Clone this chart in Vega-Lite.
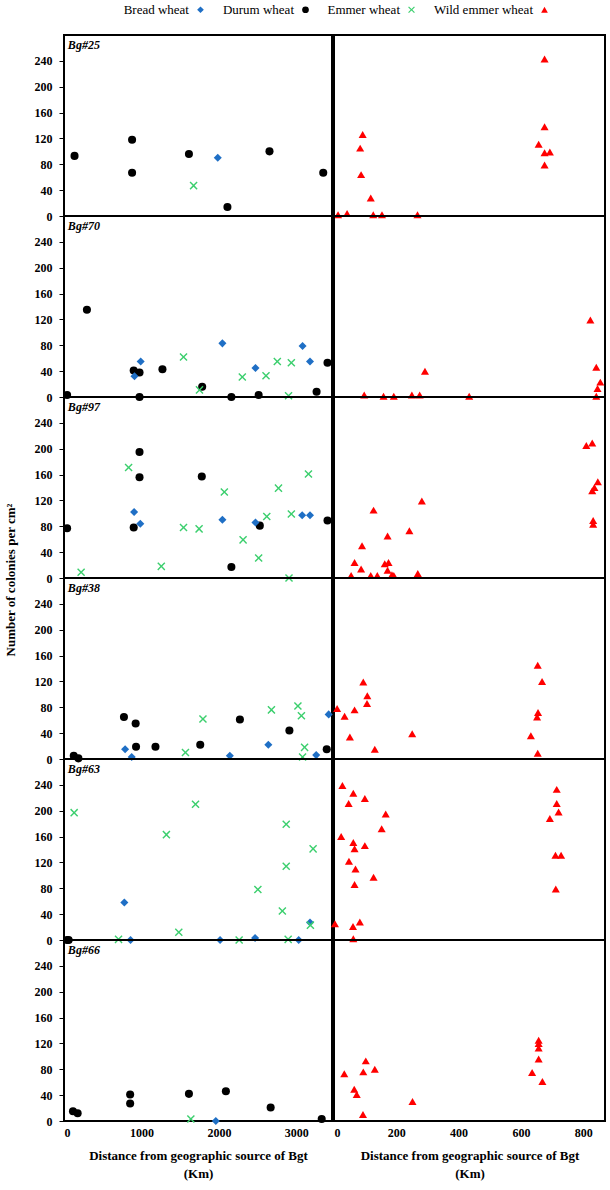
{
  "$schema": "https://vega.github.io/schema/vega-lite/v6.json",
  "padding": {"left": 4, "top": 3, "right": 4, "bottom": 2},
  "data": {
    "values": [
      {"strain": "Bg#25", "species": "Durum wheat", "km": 136, "colonies": 93},
      {"strain": "Bg#25", "species": "Durum wheat", "km": 879, "colonies": 118},
      {"strain": "Bg#25", "species": "Durum wheat", "km": 879, "colonies": 67},
      {"strain": "Bg#25", "species": "Durum wheat", "km": 1613, "colonies": 96},
      {"strain": "Bg#25", "species": "Durum wheat", "km": 2110, "colonies": 14},
      {"strain": "Bg#25", "species": "Durum wheat", "km": 2653, "colonies": 100},
      {"strain": "Bg#25", "species": "Durum wheat", "km": 3347, "colonies": 67},
      {"strain": "Bg#25", "species": "Bread wheat", "km": 1985, "colonies": 90},
      {"strain": "Bg#25", "species": "Emmer wheat", "km": 1673, "colonies": 47},
      {"strain": "Bg#25", "species": "Wild emmer wheat", "km": 13, "colonies": 2},
      {"strain": "Bg#25", "species": "Wild emmer wheat", "km": 42, "colonies": 4},
      {"strain": "Bg#25", "species": "Wild emmer wheat", "km": 92, "colonies": 126},
      {"strain": "Bg#25", "species": "Wild emmer wheat", "km": 84, "colonies": 105},
      {"strain": "Bg#25", "species": "Wild emmer wheat", "km": 87, "colonies": 64},
      {"strain": "Bg#25", "species": "Wild emmer wheat", "km": 118, "colonies": 28},
      {"strain": "Bg#25", "species": "Wild emmer wheat", "km": 126, "colonies": 2},
      {"strain": "Bg#25", "species": "Wild emmer wheat", "km": 154, "colonies": 2},
      {"strain": "Bg#25", "species": "Wild emmer wheat", "km": 268, "colonies": 2},
      {"strain": "Bg#25", "species": "Wild emmer wheat", "km": 676, "colonies": 243},
      {"strain": "Bg#25", "species": "Wild emmer wheat", "km": 676, "colonies": 138},
      {"strain": "Bg#25", "species": "Wild emmer wheat", "km": 657, "colonies": 111},
      {"strain": "Bg#25", "species": "Wild emmer wheat", "km": 676, "colonies": 98},
      {"strain": "Bg#25", "species": "Wild emmer wheat", "km": 693, "colonies": 99},
      {"strain": "Bg#25", "species": "Wild emmer wheat", "km": 676, "colonies": 79},

      {"strain": "Bg#70", "species": "Durum wheat", "km": 40, "colonies": 3},
      {"strain": "Bg#70", "species": "Durum wheat", "km": 296, "colonies": 135},
      {"strain": "Bg#70", "species": "Durum wheat", "km": 900, "colonies": 41},
      {"strain": "Bg#70", "species": "Durum wheat", "km": 975, "colonies": 38},
      {"strain": "Bg#70", "species": "Durum wheat", "km": 975, "colonies": 0},
      {"strain": "Bg#70", "species": "Durum wheat", "km": 1271, "colonies": 43},
      {"strain": "Bg#70", "species": "Durum wheat", "km": 1784, "colonies": 16},
      {"strain": "Bg#70", "species": "Durum wheat", "km": 2161, "colonies": 0},
      {"strain": "Bg#70", "species": "Durum wheat", "km": 2513, "colonies": 3},
      {"strain": "Bg#70", "species": "Durum wheat", "km": 3261, "colonies": 8},
      {"strain": "Bg#70", "species": "Durum wheat", "km": 3402, "colonies": 53},
      {"strain": "Bg#70", "species": "Bread wheat", "km": 910, "colonies": 32},
      {"strain": "Bg#70", "species": "Bread wheat", "km": 990, "colonies": 55},
      {"strain": "Bg#70", "species": "Bread wheat", "km": 2045, "colonies": 83},
      {"strain": "Bg#70", "species": "Bread wheat", "km": 2472, "colonies": 45},
      {"strain": "Bg#70", "species": "Bread wheat", "km": 3080, "colonies": 79},
      {"strain": "Bg#70", "species": "Bread wheat", "km": 3176, "colonies": 55},
      {"strain": "Bg#70", "species": "Emmer wheat", "km": 1543, "colonies": 62},
      {"strain": "Bg#70", "species": "Emmer wheat", "km": 1749, "colonies": 11},
      {"strain": "Bg#70", "species": "Emmer wheat", "km": 2302, "colonies": 31},
      {"strain": "Bg#70", "species": "Emmer wheat", "km": 2608, "colonies": 33},
      {"strain": "Bg#70", "species": "Emmer wheat", "km": 2754, "colonies": 55},
      {"strain": "Bg#70", "species": "Emmer wheat", "km": 2899, "colonies": 2},
      {"strain": "Bg#70", "species": "Emmer wheat", "km": 2935, "colonies": 53},
      {"strain": "Bg#70", "species": "Wild emmer wheat", "km": 97, "colonies": 3},
      {"strain": "Bg#70", "species": "Wild emmer wheat", "km": 159, "colonies": 1},
      {"strain": "Bg#70", "species": "Wild emmer wheat", "km": 192, "colonies": 1},
      {"strain": "Bg#70", "species": "Wild emmer wheat", "km": 250, "colonies": 3},
      {"strain": "Bg#70", "species": "Wild emmer wheat", "km": 275, "colonies": 3},
      {"strain": "Bg#70", "species": "Wild emmer wheat", "km": 292, "colonies": 40},
      {"strain": "Bg#70", "species": "Wild emmer wheat", "km": 434, "colonies": 1},
      {"strain": "Bg#70", "species": "Wild emmer wheat", "km": 823, "colonies": 119},
      {"strain": "Bg#70", "species": "Wild emmer wheat", "km": 842, "colonies": 46},
      {"strain": "Bg#70", "species": "Wild emmer wheat", "km": 855, "colonies": 23},
      {"strain": "Bg#70", "species": "Wild emmer wheat", "km": 846, "colonies": 13},
      {"strain": "Bg#70", "species": "Wild emmer wheat", "km": 842, "colonies": 1},

      {"strain": "Bg#97", "species": "Durum wheat", "km": 40, "colonies": 77},
      {"strain": "Bg#97", "species": "Durum wheat", "km": 900, "colonies": 78},
      {"strain": "Bg#97", "species": "Durum wheat", "km": 975, "colonies": 195},
      {"strain": "Bg#97", "species": "Durum wheat", "km": 975, "colonies": 156},
      {"strain": "Bg#97", "species": "Durum wheat", "km": 1779, "colonies": 157},
      {"strain": "Bg#97", "species": "Durum wheat", "km": 2161, "colonies": 17},
      {"strain": "Bg#97", "species": "Durum wheat", "km": 2528, "colonies": 81},
      {"strain": "Bg#97", "species": "Durum wheat", "km": 3402, "colonies": 89},
      {"strain": "Bg#97", "species": "Bread wheat", "km": 905, "colonies": 102},
      {"strain": "Bg#97", "species": "Bread wheat", "km": 985, "colonies": 84},
      {"strain": "Bg#97", "species": "Bread wheat", "km": 2045, "colonies": 90},
      {"strain": "Bg#97", "species": "Bread wheat", "km": 2472, "colonies": 86},
      {"strain": "Bg#97", "species": "Bread wheat", "km": 3075, "colonies": 97},
      {"strain": "Bg#97", "species": "Bread wheat", "km": 3176, "colonies": 97},
      {"strain": "Bg#97", "species": "Emmer wheat", "km": 221, "colonies": 9},
      {"strain": "Bg#97", "species": "Emmer wheat", "km": 834, "colonies": 171},
      {"strain": "Bg#97", "species": "Emmer wheat", "km": 1256, "colonies": 18},
      {"strain": "Bg#97", "species": "Emmer wheat", "km": 1543, "colonies": 78},
      {"strain": "Bg#97", "species": "Emmer wheat", "km": 1744, "colonies": 76},
      {"strain": "Bg#97", "species": "Emmer wheat", "km": 2070, "colonies": 133},
      {"strain": "Bg#97", "species": "Emmer wheat", "km": 2312, "colonies": 59},
      {"strain": "Bg#97", "species": "Emmer wheat", "km": 2513, "colonies": 31},
      {"strain": "Bg#97", "species": "Emmer wheat", "km": 2618, "colonies": 95},
      {"strain": "Bg#97", "species": "Emmer wheat", "km": 2769, "colonies": 139},
      {"strain": "Bg#97", "species": "Emmer wheat", "km": 2905, "colonies": 0},
      {"strain": "Bg#97", "species": "Emmer wheat", "km": 2935, "colonies": 99},
      {"strain": "Bg#97", "species": "Emmer wheat", "km": 3156, "colonies": 161},
      {"strain": "Bg#97", "species": "Wild emmer wheat", "km": 55, "colonies": 4},
      {"strain": "Bg#97", "species": "Wild emmer wheat", "km": 66, "colonies": 24},
      {"strain": "Bg#97", "species": "Wild emmer wheat", "km": 87, "colonies": 14},
      {"strain": "Bg#97", "species": "Wild emmer wheat", "km": 90, "colonies": 50},
      {"strain": "Bg#97", "species": "Wild emmer wheat", "km": 118, "colonies": 4},
      {"strain": "Bg#97", "species": "Wild emmer wheat", "km": 127, "colonies": 105},
      {"strain": "Bg#97", "species": "Wild emmer wheat", "km": 139, "colonies": 4},
      {"strain": "Bg#97", "species": "Wild emmer wheat", "km": 163, "colonies": 22},
      {"strain": "Bg#97", "species": "Wild emmer wheat", "km": 175, "colonies": 24},
      {"strain": "Bg#97", "species": "Wild emmer wheat", "km": 172, "colonies": 65},
      {"strain": "Bg#97", "species": "Wild emmer wheat", "km": 172, "colonies": 12},
      {"strain": "Bg#97", "species": "Wild emmer wheat", "km": 186, "colonies": 5},
      {"strain": "Bg#97", "species": "Wild emmer wheat", "km": 192, "colonies": 4},
      {"strain": "Bg#97", "species": "Wild emmer wheat", "km": 242, "colonies": 73},
      {"strain": "Bg#97", "species": "Wild emmer wheat", "km": 269, "colonies": 7},
      {"strain": "Bg#97", "species": "Wild emmer wheat", "km": 282, "colonies": 119},
      {"strain": "Bg#97", "species": "Wild emmer wheat", "km": 810, "colonies": 205},
      {"strain": "Bg#97", "species": "Wild emmer wheat", "km": 829, "colonies": 209},
      {"strain": "Bg#97", "species": "Wild emmer wheat", "km": 847, "colonies": 149},
      {"strain": "Bg#97", "species": "Wild emmer wheat", "km": 836, "colonies": 140},
      {"strain": "Bg#97", "species": "Wild emmer wheat", "km": 829, "colonies": 135},
      {"strain": "Bg#97", "species": "Wild emmer wheat", "km": 832, "colonies": 89},
      {"strain": "Bg#97", "species": "Wild emmer wheat", "km": 832, "colonies": 83},

      {"strain": "Bg#38", "species": "Durum wheat", "km": 126, "colonies": 5},
      {"strain": "Bg#38", "species": "Durum wheat", "km": 186, "colonies": 1},
      {"strain": "Bg#38", "species": "Durum wheat", "km": 774, "colonies": 65},
      {"strain": "Bg#38", "species": "Durum wheat", "km": 925, "colonies": 55},
      {"strain": "Bg#38", "species": "Durum wheat", "km": 930, "colonies": 19},
      {"strain": "Bg#38", "species": "Durum wheat", "km": 1181, "colonies": 19},
      {"strain": "Bg#38", "species": "Durum wheat", "km": 1759, "colonies": 22},
      {"strain": "Bg#38", "species": "Durum wheat", "km": 2271, "colonies": 61},
      {"strain": "Bg#38", "species": "Durum wheat", "km": 2910, "colonies": 44},
      {"strain": "Bg#38", "species": "Durum wheat", "km": 3392, "colonies": 15},
      {"strain": "Bg#38", "species": "Bread wheat", "km": 789, "colonies": 15},
      {"strain": "Bg#38", "species": "Bread wheat", "km": 874, "colonies": 3},
      {"strain": "Bg#38", "species": "Bread wheat", "km": 2141, "colonies": 5},
      {"strain": "Bg#38", "species": "Bread wheat", "km": 2638, "colonies": 22},
      {"strain": "Bg#38", "species": "Bread wheat", "km": 3256, "colonies": 6},
      {"strain": "Bg#38", "species": "Bread wheat", "km": 3417, "colonies": 69},
      {"strain": "Bg#38", "species": "Emmer wheat", "km": 1568, "colonies": 10},
      {"strain": "Bg#38", "species": "Emmer wheat", "km": 1794, "colonies": 62},
      {"strain": "Bg#38", "species": "Emmer wheat", "km": 2678, "colonies": 76},
      {"strain": "Bg#38", "species": "Emmer wheat", "km": 3020, "colonies": 82},
      {"strain": "Bg#38", "species": "Emmer wheat", "km": 3065, "colonies": 67},
      {"strain": "Bg#38", "species": "Emmer wheat", "km": 3106, "colonies": 18},
      {"strain": "Bg#38", "species": "Emmer wheat", "km": 3080, "colonies": 3},
      {"strain": "Bg#38", "species": "Wild emmer wheat", "km": 10, "colonies": 78},
      {"strain": "Bg#38", "species": "Wild emmer wheat", "km": 34, "colonies": 66},
      {"strain": "Bg#38", "species": "Wild emmer wheat", "km": 51, "colonies": 34},
      {"strain": "Bg#38", "species": "Wild emmer wheat", "km": 66, "colonies": 76},
      {"strain": "Bg#38", "species": "Wild emmer wheat", "km": 94, "colonies": 119},
      {"strain": "Bg#38", "species": "Wild emmer wheat", "km": 107, "colonies": 98},
      {"strain": "Bg#38", "species": "Wild emmer wheat", "km": 106, "colonies": 86},
      {"strain": "Bg#38", "species": "Wild emmer wheat", "km": 131, "colonies": 15},
      {"strain": "Bg#38", "species": "Wild emmer wheat", "km": 251, "colonies": 39},
      {"strain": "Bg#38", "species": "Wild emmer wheat", "km": 632, "colonies": 36},
      {"strain": "Bg#38", "species": "Wild emmer wheat", "km": 654, "colonies": 145},
      {"strain": "Bg#38", "species": "Wild emmer wheat", "km": 668, "colonies": 120},
      {"strain": "Bg#38", "species": "Wild emmer wheat", "km": 655, "colonies": 72},
      {"strain": "Bg#38", "species": "Wild emmer wheat", "km": 652, "colonies": 65},
      {"strain": "Bg#38", "species": "Wild emmer wheat", "km": 654, "colonies": 9},

      {"strain": "Bg#63", "species": "Durum wheat", "km": 40, "colonies": 0},
      {"strain": "Bg#63", "species": "Durum wheat", "km": 60, "colonies": 0},
      {"strain": "Bg#63", "species": "Bread wheat", "km": 779, "colonies": 58},
      {"strain": "Bg#63", "species": "Bread wheat", "km": 859, "colonies": 0},
      {"strain": "Bg#63", "species": "Bread wheat", "km": 2015, "colonies": 0},
      {"strain": "Bg#63", "species": "Bread wheat", "km": 2467, "colonies": 3},
      {"strain": "Bg#63", "species": "Bread wheat", "km": 3030, "colonies": 0},
      {"strain": "Bg#63", "species": "Bread wheat", "km": 3176, "colonies": 27},
      {"strain": "Bg#63", "species": "Emmer wheat", "km": 131, "colonies": 197},
      {"strain": "Bg#63", "species": "Emmer wheat", "km": 704, "colonies": 1},
      {"strain": "Bg#63", "species": "Emmer wheat", "km": 1322, "colonies": 163},
      {"strain": "Bg#63", "species": "Emmer wheat", "km": 1482, "colonies": 12},
      {"strain": "Bg#63", "species": "Emmer wheat", "km": 1698, "colonies": 210},
      {"strain": "Bg#63", "species": "Emmer wheat", "km": 2261, "colonies": 0},
      {"strain": "Bg#63", "species": "Emmer wheat", "km": 2503, "colonies": 78},
      {"strain": "Bg#63", "species": "Emmer wheat", "km": 2819, "colonies": 45},
      {"strain": "Bg#63", "species": "Emmer wheat", "km": 2869, "colonies": 179},
      {"strain": "Bg#63", "species": "Emmer wheat", "km": 2869, "colonies": 114},
      {"strain": "Bg#63", "species": "Emmer wheat", "km": 2894, "colonies": 1},
      {"strain": "Bg#63", "species": "Emmer wheat", "km": 3181, "colonies": 23},
      {"strain": "Bg#63", "species": "Emmer wheat", "km": 3216, "colonies": 141},
      {"strain": "Bg#63", "species": "Wild emmer wheat", "km": 3, "colonies": 25},
      {"strain": "Bg#63", "species": "Wild emmer wheat", "km": 23, "colonies": 160},
      {"strain": "Bg#63", "species": "Wild emmer wheat", "km": 27, "colonies": 239},
      {"strain": "Bg#63", "species": "Wild emmer wheat", "km": 47, "colonies": 211},
      {"strain": "Bg#63", "species": "Wild emmer wheat", "km": 48, "colonies": 122},
      {"strain": "Bg#63", "species": "Wild emmer wheat", "km": 62, "colonies": 227},
      {"strain": "Bg#63", "species": "Wild emmer wheat", "km": 62, "colonies": 151},
      {"strain": "Bg#63", "species": "Wild emmer wheat", "km": 66, "colonies": 141},
      {"strain": "Bg#63", "species": "Wild emmer wheat", "km": 69, "colonies": 110},
      {"strain": "Bg#63", "species": "Wild emmer wheat", "km": 66, "colonies": 86},
      {"strain": "Bg#63", "species": "Wild emmer wheat", "km": 61, "colonies": 21},
      {"strain": "Bg#63", "species": "Wild emmer wheat", "km": 62, "colonies": 2},
      {"strain": "Bg#63", "species": "Wild emmer wheat", "km": 83, "colonies": 28},
      {"strain": "Bg#63", "species": "Wild emmer wheat", "km": 99, "colonies": 219},
      {"strain": "Bg#63", "species": "Wild emmer wheat", "km": 99, "colonies": 146},
      {"strain": "Bg#63", "species": "Wild emmer wheat", "km": 127, "colonies": 97},
      {"strain": "Bg#63", "species": "Wild emmer wheat", "km": 153, "colonies": 172},
      {"strain": "Bg#63", "species": "Wild emmer wheat", "km": 166, "colonies": 195},
      {"strain": "Bg#63", "species": "Wild emmer wheat", "km": 693, "colonies": 188},
      {"strain": "Bg#63", "species": "Wild emmer wheat", "km": 715, "colonies": 233},
      {"strain": "Bg#63", "species": "Wild emmer wheat", "km": 715, "colonies": 211},
      {"strain": "Bg#63", "species": "Wild emmer wheat", "km": 721, "colonies": 198},
      {"strain": "Bg#63", "species": "Wild emmer wheat", "km": 711, "colonies": 131},
      {"strain": "Bg#63", "species": "Wild emmer wheat", "km": 729, "colonies": 131},
      {"strain": "Bg#63", "species": "Wild emmer wheat", "km": 712, "colonies": 79},

      {"strain": "Bg#66", "species": "Durum wheat", "km": 116, "colonies": 15},
      {"strain": "Bg#66", "species": "Durum wheat", "km": 176, "colonies": 12},
      {"strain": "Bg#66", "species": "Durum wheat", "km": 854, "colonies": 41},
      {"strain": "Bg#66", "species": "Durum wheat", "km": 854, "colonies": 27},
      {"strain": "Bg#66", "species": "Durum wheat", "km": 1613, "colonies": 42},
      {"strain": "Bg#66", "species": "Durum wheat", "km": 2090, "colonies": 46},
      {"strain": "Bg#66", "species": "Durum wheat", "km": 2668, "colonies": 21},
      {"strain": "Bg#66", "species": "Durum wheat", "km": 3327, "colonies": 3},
      {"strain": "Bg#66", "species": "Emmer wheat", "km": 1638, "colonies": 3},
      {"strain": "Bg#66", "species": "Bread wheat", "km": 1960, "colonies": 0},
      {"strain": "Bg#66", "species": "Wild emmer wheat", "km": 33, "colonies": 73},
      {"strain": "Bg#66", "species": "Wild emmer wheat", "km": 65, "colonies": 49},
      {"strain": "Bg#66", "species": "Wild emmer wheat", "km": 73, "colonies": 41},
      {"strain": "Bg#66", "species": "Wild emmer wheat", "km": 102, "colonies": 93},
      {"strain": "Bg#66", "species": "Wild emmer wheat", "km": 94, "colonies": 76},
      {"strain": "Bg#66", "species": "Wild emmer wheat", "km": 131, "colonies": 80},
      {"strain": "Bg#66", "species": "Wild emmer wheat", "km": 93, "colonies": 10},
      {"strain": "Bg#66", "species": "Wild emmer wheat", "km": 252, "colonies": 30},
      {"strain": "Bg#66", "species": "Wild emmer wheat", "km": 636, "colonies": 75},
      {"strain": "Bg#66", "species": "Wild emmer wheat", "km": 657, "colonies": 125},
      {"strain": "Bg#66", "species": "Wild emmer wheat", "km": 657, "colonies": 120},
      {"strain": "Bg#66", "species": "Wild emmer wheat", "km": 657, "colonies": 113},
      {"strain": "Bg#66", "species": "Wild emmer wheat", "km": 657, "colonies": 96},
      {"strain": "Bg#66", "species": "Wild emmer wheat", "km": 669, "colonies": 61}
    ]
  },
  "hconcat": [
    {
      "transform": [{"filter": "datum.species !== 'Wild emmer wheat'"}],
      "facet": {
        "row": {
          "field": "strain",
          "type": "nominal",
          "sort": ["Bg#25", "Bg#70", "Bg#97", "Bg#38", "Bg#63", "Bg#66"],
          "title": "Number of colonies per cm²",
          "header": {"labels": false, "titleFontSize": 13, "titleFontWeight": "bold", "titlePadding": 6}
        }
      },
      "spacing": {"row": 0},
      "bounds": "flush",
      "spec": {
        "width": 268,
        "height": 181,
        "layer": [
          {
            "mark": {"type": "point", "filled": true, "opacity": 1, "size": 65},
            "encoding": {
              "x": {
                "field": "km",
                "type": "quantitative",
                "scale": {"domain": [0, 3460], "nice": false},
                "axis": {"values": [0, 1000, 2000, 3000], "format": "d", "title": ["Distance from geographic source of Bgt", "(Km)"]}
              },
              "y": {
                "field": "colonies",
                "type": "quantitative",
                "scale": {"domain": [0, 280], "nice": false},
                "axis": {"values": [0, 40, 80, 120, 160, 200, 240], "title": null, "ticks": true, "tickSize": 5, "labelPadding": 7, "labelOverlap": false}
              },
              "color": {
                "field": "species",
                "type": "nominal",
                "scale": {
                  "domain": ["Bread wheat", "Durum wheat", "Emmer wheat", "Wild emmer wheat"],
                  "range": ["#1f6fc5", "#000000", "#3ccf6e", "#ff0000"]
                }
              },
              "shape": {
                "field": "species",
                "type": "nominal",
                "scale": {
                  "domain": ["Bread wheat", "Durum wheat", "Emmer wheat", "Wild emmer wheat"],
                  "range": ["diamond", "circle", "M-1,-0.75L-0.75,-1L0,-0.25L0.75,-1L1,-0.75L0.25,0L1,0.75L0.75,1L0,0.25L-0.75,1L-1,0.75L-0.25,0Z", "triangle-up"]
                }
              }
            }
          },
          {
            "transform": [{"aggregate": [{"op": "count", "as": "count"}], "groupby": ["strain"]}],
            "mark": {"type": "text", "align": "left", "baseline": "middle", "fontStyle": "italic", "fontWeight": "bold", "fontSize": 12},
            "encoding": {
              "x": {"datum": 50},
              "y": {"datum": 264, "axis": {"values": [0, 40, 80, 120, 160, 200, 240], "title": null, "labelOverlap": false}},
              "text": {"field": "strain"}
            }
          }
        ]
      }
    },
    {
      "transform": [{"filter": "datum.species === 'Wild emmer wheat'"}],
      "facet": {
        "row": {
          "field": "strain",
          "type": "nominal",
          "sort": ["Bg#25", "Bg#70", "Bg#97", "Bg#38", "Bg#63", "Bg#66"],
          "title": null,
          "header": {"labels": false, "title": null}
        }
      },
      "spacing": {"row": 0},
      "bounds": "flush",
      "spec": {
        "width": 271,
        "height": 181,
        "mark": {"type": "point", "filled": true, "opacity": 1, "size": 65},
        "encoding": {
          "x": {
            "field": "km",
            "type": "quantitative",
            "scale": {"domain": [0, 870], "nice": false},
            "axis": {"values": [0, 200, 400, 600, 800], "format": "d", "title": ["Distance from geographic source of Bgt", "(Km)"]}
          },
          "y": {
            "field": "colonies",
            "type": "quantitative",
            "scale": {"domain": [0, 280], "nice": false},
            "axis": null
          },
          "color": {
            "field": "species",
            "type": "nominal",
            "scale": {
              "domain": ["Bread wheat", "Durum wheat", "Emmer wheat", "Wild emmer wheat"],
              "range": ["#1f6fc5", "#000000", "#3ccf6e", "#ff0000"]
            }
          },
          "shape": {
            "field": "species",
            "type": "nominal",
            "scale": {
              "domain": ["Bread wheat", "Durum wheat", "Emmer wheat", "Wild emmer wheat"],
              "range": ["diamond", "circle", "M-1,-0.75L-0.75,-1L0,-0.25L0.75,-1L1,-0.75L0.25,0L1,0.75L0.75,1L0,0.25L-0.75,1L-1,0.75L-0.25,0Z", "triangle-up"]
            }
          }
        }
      }
    }
  ],
  "spacing": -10,
  "resolve": {"scale": {"color": "shared", "shape": "shared"}},
  "config": {
    "font": "Liberation Serif",
    "view": {"stroke": "black", "strokeWidth": 2},
    "axis": {
      "grid": false,
      "domain": false,
      "labelFontWeight": "bold",
      "labelFontSize": 12,
      "labelColor": "black",
      "tickColor": "black",
      "labelPadding": 3,
      "labelOverlap": false,
      "titleFontWeight": "bold",
      "titleFontSize": 13,
      "titleLineHeight": 18,
      "titleColor": "black"
    },
    "axisY": {"labelOverlap": false, "labelSeparation": 0},
    "axisX": {"ticks": false, "labelPadding": 6, "titlePadding": 11},
    "legend": {
      "orient": "none",
      "legendX": 130,
      "legendY": -32,
      "direction": "horizontal",
      "title": null,
      "labelFontSize": 13,
      "labelColor": "black",
      "labelAlign": "right",
      "labelOffset": -18,
      "symbolSize": 45,
      "columnPadding": 18
    }
  }
}
